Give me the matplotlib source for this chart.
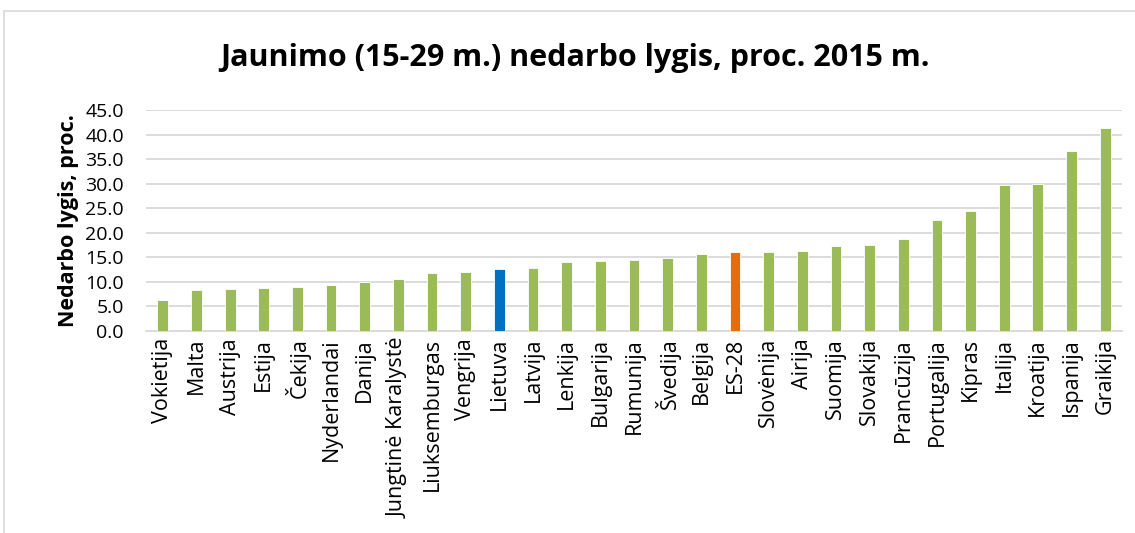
import matplotlib.pyplot as plt
from matplotlib.patches import Rectangle
import numpy as np

countries = ['Vokietija', 'Malta', 'Austrija', 'Estija', 'Čekija', 'Nyderlandai',
             'Danija', 'Jungtinė Karalystė', 'Liuksemburgas', 'Vengrija', 'Lietuva',
             'Latvija', 'Lenkija', 'Bulgarija', 'Rumunija', 'Švedija', 'Belgija',
             'ES-28', 'Slovėnija', 'Airija', 'Suomija', 'Slovakija', 'Prancūzija',
             'Portugalija', 'Kipras', 'Italija', 'Kroatija', 'Ispanija', 'Graikija']
values = [6.4, 8.4, 8.5, 8.8, 8.9, 9.3, 9.9, 10.5, 11.8, 12.0, 12.6,
          12.8, 14.1, 14.3, 14.4, 14.8, 15.6, 16.0, 16.1, 16.2, 17.3, 17.5, 18.8,
          22.7, 24.4, 29.8, 30.0, 36.6, 41.3]
yticks = np.arange(0, 46, 5)

green, blue, orange = '#9BBB59', '#0070C0', '#E46C0A'
colors = [blue if c == 'Lietuva' else orange if c == 'ES-28' else green for c in countries]

plt.rcParams['font.family'] = ['Open Sans', 'DejaVu Sans']

fig = plt.figure(figsize=(11.35, 5.33), dpi=100)
ax = fig.add_axes([146 / 1135, 1 - 331 / 533, (1122 - 146) / 1135, (331 - 110) / 533])

x = np.arange(len(countries))
ax.bar(x, values, width=0.32, color=colors, edgecolor='white', linewidth=0.6, zorder=3)

ax.set_xlim(-0.5, len(countries) - 0.5)
ax.set_ylim(0, 45)
ax.set_yticks(yticks)
ax.set_yticklabels([f'{v:.1f}' for v in yticks], fontsize=14)
ax.set_xticks(x)
ax.set_xticklabels(countries, rotation=90, fontsize=15.5)
ax.tick_params(axis='y', length=0, pad=16)
ax.tick_params(axis='x', length=0, pad=5)
ax.grid(axis='y', color='#d9d9d9', linewidth=1.3, zorder=0)
for s in ['top', 'right', 'left']:
    ax.spines[s].set_visible(False)
ax.spines['bottom'].set_color('#d9d9d9')
ax.spines['bottom'].set_linewidth(1.3)

ax.set_ylabel('Nedarbo lygis, proc.', fontsize=15.5, fontweight='bold', labelpad=4)
fig.text(575 / 1135, 1 - 58 / 533, 'Jaunimo (15-29 m.) nedarbo lygis, proc. 2015 m.',
         ha='center', va='center', fontsize=22, fontweight='bold')

# outer chart border
fig.patches.append(Rectangle((4 / 1135, -0.1), 1.2, 1 - 11 / 533 + 0.1,
                             transform=fig.transFigure, fill=False,
                             edgecolor='#d9d9d9', linewidth=1.2))

fig.savefig('out.png', dpi=100)
